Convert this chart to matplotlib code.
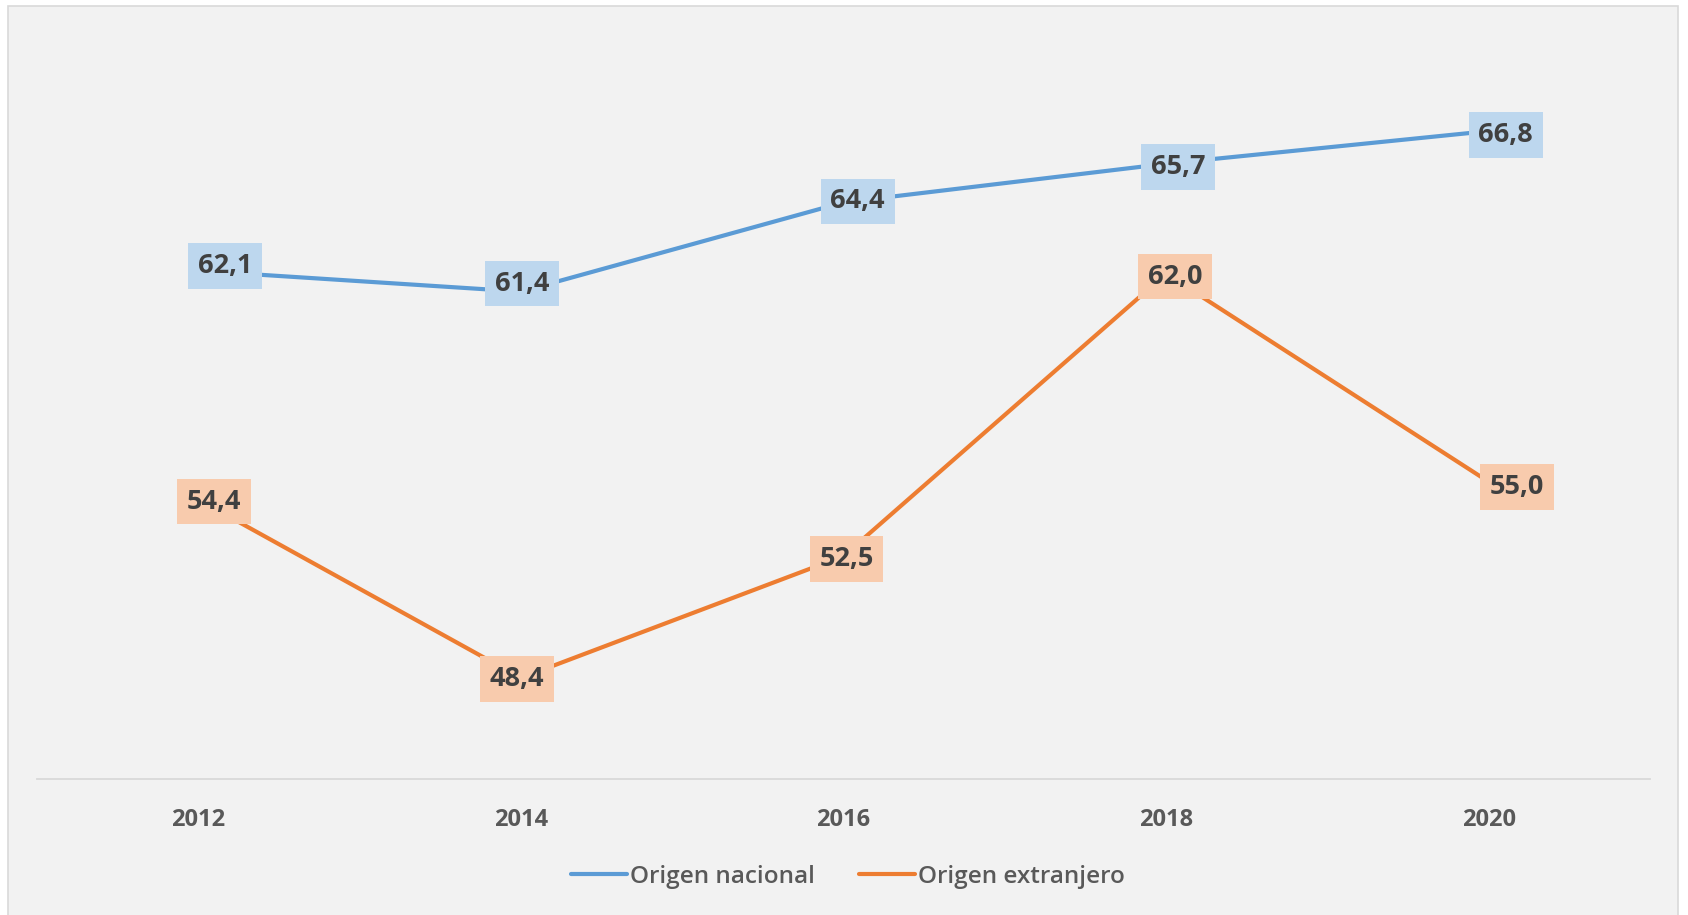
import matplotlib
matplotlib.use("Agg")
import matplotlib.pyplot as plt
from matplotlib.patches import Rectangle

years = ["2012", "2014", "2016", "2018", "2020"]
nacional = [62.1, 61.4, 64.4, 65.7, 66.8]
extranjero = [54.4, 48.4, 52.5, 62.0, 55.0]
series_names = ["Origen nacional", "Origen extranjero"]

# label offsets (pixels) from each point, style/layout only
off_nac = [(27, 10), (1, 13), (14, 6), (12, 2), (17, 1)]
off_ext = [(16, 3), (-4, 4), (3, 2), (9, 2), (28, 0)]
label_shift = -5

W, H, DPI = 1688, 915, 100
plt.rcParams["font.family"] = ["Open Sans", "DejaVu Sans"]

fig = plt.figure(figsize=(W / DPI, H / DPI), dpi=DPI, facecolor="white")

# chart panel background
panel = Rectangle((8 / W, -0.01), (1678 - 8) / W, (H - 6) / H + 0.01, transform=fig.transFigure,
                  facecolor="#F2F2F2", edgecolor="#D9D9D9", linewidth=1.2, zorder=-5)
fig.patches.append(panel)

ax = fig.add_axes([37 / W, (H - 779) / H, 1613 / W, 746 / H])
ax.set_zorder(1)
ax.set_facecolor("none")
x = list(range(len(years)))

blue, orange = "#5B9BD5", "#ED7D31"
ax.plot(x, nacional, color=blue, lw=3.0, solid_capstyle="round", zorder=2, label=series_names[0])
ax.plot(x, extranjero, color=orange, lw=3.0, solid_capstyle="round", zorder=2, label=series_names[1])

def fmt(v):
    return f"{v:.1f}".replace(".", ",")

for vals, offs, fc in ((nacional, off_nac, "#BDD7EE"), (extranjero, off_ext, "#F8CBAD")):
    for xi, v, (dx, dy) in zip(x, vals, offs):
        ax.annotate(fmt(v), (xi, v), xytext=(dx, dy + label_shift), textcoords="offset pixels",
                    ha="center", va="center", fontsize=19.5, fontweight="bold", color="#404040",
                    bbox=dict(boxstyle="square,pad=0.36", fc=fc, ec="none"), zorder=4)

ax.set_xlim(-0.5, len(years) - 0.5)
ax.set_ylim(45, 70.1)
ax.set_xticks(x)
ax.set_xticklabels(years, fontsize=17, fontweight="bold", color="#595959")
ax.set_yticks([])
for s in ["top", "left", "right"]:
    ax.spines[s].set_visible(False)
ax.spines["bottom"].set_color("#D9D9D9")
ax.spines["bottom"].set_linewidth(1.3)
ax.tick_params(axis="x", length=0, pad=21)

leg = fig.legend(loc="center", bbox_to_anchor=(848 / W, 1 - 877 / H), ncol=2, frameon=False,
                 fontsize=17.5, handlelength=2.3, handletextpad=0.15, columnspacing=1.8,
                 labelcolor="#595959")
for t in leg.get_texts():
    t.set_fontweight("semibold")

fig.savefig("out.png", dpi=DPI, facecolor="white")
